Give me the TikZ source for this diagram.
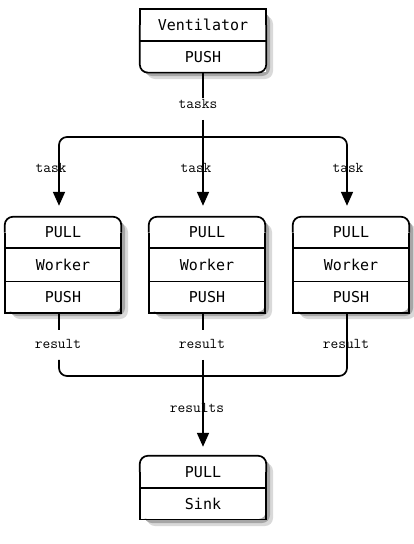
\documentclass[tikz,border=0pt]{standalone}
\usepackage{fontspec}
\newfontfamily\cellfont{DejaVu Sans Mono}
\usetikzlibrary{positioning,arrows.meta}

\tikzset{
  cell/.style={minimum height=32pt, inner sep=0pt, font=\cellfont\fontsize{15}{17}\selectfont},
  outline/.style={line width=1.7pt},
  shade/.style={fill=black!#1},
  conn/.style={line width=1.7pt},
  lbl/.style={inner sep=1pt, font=\ttfamily\fontsize{15}{17}\selectfont},
  tip/.style={-{Triangle[length=14pt,width=12pt]}, shorten >=11pt},
}

\begin{document}
\begin{tikzpicture}[x=1pt,y=-1pt]
  \useasboundingbox (0,0) rectangle (414,544);

  % Ventilator: square top, round bottom
  \fill[shade=15, rounded corners=8pt] (147,16) rectangle (273,79);
  \fill[shade=35, rounded corners=8pt] (144,13) rectangle (270,76);
  \fill[white] (140,9) rectangle (266,72);
  \node[cell, minimum width=126pt] (vent) at (203,25) {Ventilator};
  \node[cell, minimum width=126pt, minimum height=31pt, below=0pt of vent] (vent-push) {PUSH};
  \draw[outline] (vent.west) |- (vent.north) -| (vent.east);
  \draw[outline, rounded corners=8pt] (vent.east) |- (vent-push.south) -| (vent.west);
  \draw[outline] (vent.south west) -- (vent.south east);

  % Workers: round top, square bottom
  \foreach \i/\x in {1/63,2/207,3/351} {
    \coordinate (w\i-top) at (\x-58,217);
    \coordinate (w\i-bot) at (\x+58,312);
    \fill[shade=15, rounded corners=8pt] ([shift={(7pt,-7pt)}]w\i-top) rectangle ([shift={(7pt,-7pt)}]w\i-bot);
    \fill[shade=35, rounded corners=8pt] ([shift={(4pt,-4pt)}]w\i-top) rectangle ([shift={(4pt,-4pt)}]w\i-bot);
    \fill[white, rounded corners=8pt] (w\i-top) rectangle (w\i-bot);
    \node[cell, minimum width=116pt, minimum height=31pt] (w\i-a) at (\x,232.5) {PULL};
    \node[cell, minimum width=116pt, minimum height=33pt, below=0pt of w\i-a] (w\i-b) {Worker};
    \node[cell, minimum width=116pt, minimum height=31pt, below=0pt of w\i-b] (w\i-c) {PUSH};
    \draw[outline, rounded corners=8pt] (w\i-a.west) |- (w\i-a.north) -| (w\i-a.east);
    \draw[outline] (w\i-a.east) |- (w\i-c.south) -| (w\i-a.west);
    \draw[outline] (w\i-a.south west) -- (w\i-a.south east);
    \draw[outline] (w\i-b.south west) -- (w\i-b.south east);
    \coordinate (w\i-in) at ([xshift=-4pt]w\i-a.north);
    \coordinate (w\i-out) at ([xshift=-4pt]w\i-c.south);
  }

  % Sink: round top, square bottom
  \fill[shade=15, rounded corners=8pt] (147,463) rectangle (273,526);
  \fill[shade=35, rounded corners=8pt] (144,460) rectangle (270,523);
  \fill[white, rounded corners=8pt] (140,456) rectangle (266,519);
  \node[cell, minimum width=126pt] (sink-pull) at (203,472) {PULL};
  \node[cell, minimum width=126pt, minimum height=31pt, below=0pt of sink-pull] (sink) {Sink};
  \draw[outline, rounded corners=8pt] (sink-pull.west) |- (sink-pull.north) -| (sink-pull.east);
  \draw[outline] (sink-pull.east) |- (sink.south) -| (sink-pull.west);
  \draw[outline] (sink-pull.south west) -- (sink-pull.south east);

  % labels
  \node[lbl] (tasks) at (198,104) {tasks};
  \node[lbl] (task1) at (51,168) {task};
  \node[lbl] (task2) at (196,168) {task};
  \node[lbl] (task3) at (348,168) {task};
  \node[lbl] (res1) at (58,344) {result};
  \node[lbl] (res2) at (202,344) {result};
  \node[lbl] (res3) at (346,344) {result};
  \node[lbl] (results) at (197,408) {results};

  % tasks fan out
  \coordinate (split) at (203,137);
  \draw[conn] (vent-push.south) -- (vent-push.south |- tasks.north);
  \draw[conn, shorten <=10pt] (tasks.south -| split) -- (split);
  \draw[conn, tip, rounded corners=8pt] (split) -| (w1-in);
  \draw[conn, tip] (split) -- (w2-in);
  \draw[conn, tip, rounded corners=8pt] (split) -| (w3-in);

  % results fan in
  \coordinate (join) at (203,376);
  \draw[conn, shorten >=8pt] (w1-out) -- (w1-out |- res1.north);
  \draw[conn, shorten <=10pt, rounded corners=8pt] (res1.south -| w1-out) |- (join);
  \draw[conn, shorten >=8pt] (w2-out) -- (w2-out |- res2.north);
  \draw[conn, tip, shorten <=10pt, shorten >=9pt] (res2.south -| w2-out) -- (sink-pull.north);
  \draw[conn, rounded corners=8pt] (w3-out) |- (join);
\end{tikzpicture}
\end{document}
